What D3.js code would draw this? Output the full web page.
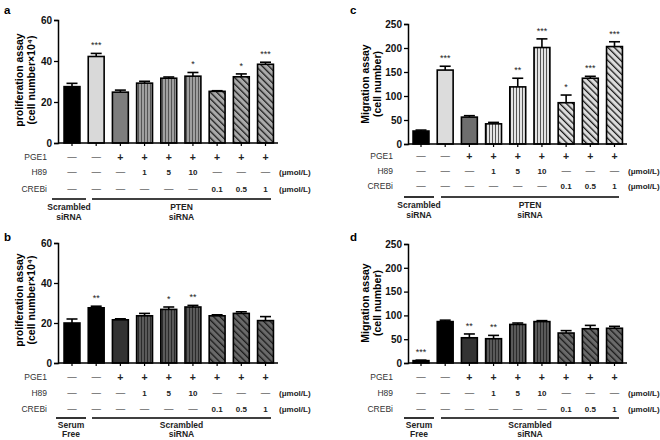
<!DOCTYPE html>
<html><head><meta charset="utf-8">
<script src="https://cdn.jsdelivr.net/npm/d3@7"></script>
<style>
body{margin:0;background:#fff;}
svg{display:block;font-family:"Liberation Sans",Arial,sans-serif;}
</style></head>
<body><svg id="c" width="660" height="440"></svg>
<script>
// ---------- DATA ----------
const categories = ["ctrl","siRNA","PGE1","H89_1","H89_5","H89_10","CREBi_0.1","CREBi_0.5","CREBi_1"];
const pge1Row  = ["—","—","+","+","+","+","+","+","+"];
const h89Row   = ["—","—","—","1","5","10","—","—","—"];
const crebiRow = ["—","—","—","—","—","—","0.1","0.5","1"];
const rowLabels = ["PGE1","H89","CREBi"];
const unitLabel = "(μmol/L)";

const aMeans = [27.5, 42.2, 24.8, 29.2, 31.6, 32.6, 25.2, 32.3, 38.4];
const aErrs  = [1.6, 1.5, 1.0, 0.9, 0.6, 1.8, 0.3, 1.4, 1.0];
const aSig   = ["","***","","","","*","","*","***"];

const bMeans = [20.0, 27.6, 21.6, 23.6, 26.8, 28.0, 23.6, 24.8, 21.2];
const bErrs  = [2.0, 0.8, 0.5, 1.2, 1.2, 0.8, 0.5, 0.8, 2.0];
const bSig   = ["","**","","","*","**","","",""];

const cMeans = [27, 154, 56, 42, 119, 201, 86, 137, 203];
const cErrs  = [2, 8, 3, 3, 18, 18, 16, 4, 10];
const cSig   = ["","***","","","**","***","*","***","***"];

const dMeans = [5, 87, 53, 51, 81, 87, 63, 72, 73];
const dErrs  = [1, 3, 8, 7, 3, 2, 5, 7, 4];
const dSig   = ["***","","**","**","","","","",""];

const ticks60  = [0, 20, 40, 60];
const ticks250 = [0, 50, 100, 150, 200, 250];

// ---------- DRAW ----------
const svg = d3.select("#c");
const defs = svg.append("defs");
function vPattern(id, bg, fg){
  const p = defs.append("pattern").attr("id",id).attr("patternUnits","userSpaceOnUse").attr("width",3).attr("height",6);
  p.append("rect").attr("width",3).attr("height",6).attr("fill",bg);
  p.append("rect").attr("x",0).attr("width",1).attr("height",6).attr("fill",fg);
}
function dPattern(id, bg, fg){
  const p = defs.append("pattern").attr("id",id).attr("patternUnits","userSpaceOnUse").attr("width",4.6).attr("height",10).attr("patternTransform","rotate(-45)");
  p.append("rect").attr("width",4.6).attr("height",10).attr("fill",bg);
  p.append("rect").attr("x",0).attr("width",1.3).attr("height",10).attr("fill",fg);
}
vPattern("va","#a0a0a0","#555");
dPattern("da","#aaaaaa","#1a1a1a");
vPattern("vc","#e4e4e4","#555");
dPattern("dc","#dddddd","#1a1a1a");
vPattern("vb","#5a5a5a","#2a2a2a");
dPattern("db","#6a6a6a","#1a1a1a");

const panels = [
  {label:"a", lx:4, ly:14, means:aMeans, errs:aErrs, sig:aSig, ticks:ticks60, max:60,
   axisX:58, y0:143, y1:20, xr:[72,265.5], xEnd:278,
   fills:["#000","#d9d9d9","#7d7d7d","url(#va)","url(#va)","url(#va)","url(#da)","url(#da)","url(#da)"],
   titles:["proliferation assay","(cell number×10⁴)"], tx:[19,31], ty:80,
   rowY:[157,172,189], rowLabX:47, unitX:279, groupY:199,
   groups:[{x0:52,x1:86,t:["Scrambled","siRNA"]},{x0:92,x1:271,t:["PTEN","siRNA"]}], gty:[207,217]},
  {label:"c", lx:350, ly:14, means:cMeans, errs:cErrs, sig:cSig, ticks:ticks250, max:250,
   axisX:408, y0:144, y1:24, xr:[421,614.5], xEnd:627,
   fills:["#000","#dcdcdc","#6e6e6e","url(#vc)","url(#vc)","url(#vc)","url(#dc)","url(#dc)","url(#dc)"],
   titles:["Migration assay","(cell number)"], tx:[365,377], ty:84,
   rowY:[156,171,186], rowLabX:393, unitX:628, groupY:197,
   groups:[{x0:404,x1:434,t:["Scrambled","siRNA"]},{x0:441,x1:619,t:["PTEN","siRNA"]}], gty:[205,215]},
  {label:"b", lx:4, ly:241, means:bMeans, errs:bErrs, sig:bSig, ticks:ticks60, max:60,
   axisX:58, y0:363, y1:243, xr:[72,265.5], xEnd:278,
   fills:["#000","#000","#333","url(#vb)","url(#vb)","url(#vb)","url(#db)","url(#db)","url(#db)"],
   titles:["proliferation assay","(cell number×10⁴)"], tx:[19,31], ty:300,
   rowY:[377,393,409], rowLabX:47, unitX:279, groupY:418,
   groups:[{x0:56,x1:86,t:["Serum","Free"]},{x0:92,x1:271,t:["Scrambled","siRNA"]}], gty:[425,434]},
  {label:"d", lx:350, ly:241, means:dMeans, errs:dErrs, sig:dSig, ticks:ticks250, max:250,
   axisX:408, y0:363, y1:244, xr:[421,614.5], xEnd:627,
   fills:["#000","#000","#333","url(#vb)","url(#vb)","url(#vb)","url(#db)","url(#db)","url(#db)"],
   titles:["Migration assay","(cell number)"], tx:[365,377], ty:303,
   rowY:[377,393,409], rowLabX:393, unitX:628, groupY:418,
   groups:[{x0:404,x1:434,t:["Serum","Free"]},{x0:441,x1:619,t:["Scrambled","siRNA"]}], gty:[425,434]}
];

const rows = [pge1Row, h89Row, crebiRow];

panels.forEach(P => {
  const g = svg.append("g");
  const x = d3.scalePoint().domain(categories).range(P.xr);
  const y = d3.scaleLinear().domain([0,P.max]).range([P.y0,P.y1]);
  const bw = 17.5;

  g.append("text").attr("x",P.lx).attr("y",P.ly).attr("font-size",11.5).attr("font-weight","bold").text(P.label);

  const ax = g.append("g").attr("transform",`translate(${P.axisX},0)`)
    .call(d3.axisLeft(y).tickValues(P.ticks).tickSize(4).tickPadding(2).tickFormat(d3.format("d")));
  ax.select(".domain").attr("stroke","#000").attr("stroke-width",1.5);
  ax.selectAll(".tick line").attr("stroke","#000").attr("stroke-width",1.3);
  ax.selectAll(".tick text").attr("font-size",10).attr("font-weight","bold").attr("fill","#111")
    .attr("font-family","'Liberation Sans',Arial,sans-serif");

  P.titles.forEach((t,i)=>{
    g.append("text").attr("transform",`translate(${P.tx[i]},${P.ty}) rotate(-90)`)
      .attr("text-anchor","middle").attr("dy","0.35em").attr("font-size",10.5).attr("font-weight","bold").text(t);
  });

  g.selectAll(".err").data(categories).enter().append("g").each(function(c,i){
    const e = d3.select(this), cx = x(c), top = y(P.means[i]+P.errs[i]);
    e.append("line").attr("x1",cx).attr("x2",cx).attr("y1",y(P.means[i])).attr("y2",top).attr("stroke","#000").attr("stroke-width",1.6);
    e.append("line").attr("x1",cx-5.5).attr("x2",cx+5.5).attr("y1",top).attr("y2",top).attr("stroke","#000").attr("stroke-width",1.6);
  });

  g.selectAll(".bar").data(categories).enter().append("rect")
    .attr("x",c=>x(c)-bw/2+0.8).attr("width",bw-1.6)
    .attr("y",(c,i)=>y(P.means[i])).attr("height",(c,i)=>P.y0-y(P.means[i]))
    .attr("fill",(c,i)=>P.fills[i]).attr("stroke","#000").attr("stroke-width",1.6);

  g.append("line").attr("x1",P.axisX).attr("x2",P.xEnd).attr("y1",P.y0).attr("y2",P.y0).attr("stroke","#000").attr("stroke-width",1.5);
  g.selectAll(".xt").data(categories).enter().append("line")
    .attr("x1",c=>x(c)).attr("x2",c=>x(c)).attr("y1",P.y0).attr("y2",P.y0+3).attr("stroke","#000").attr("stroke-width",1.2);

  g.selectAll(".sig").data(categories).enter().append("text")
    .attr("x",c=>x(c)).attr("y",(c,i)=>y(P.means[i]+P.errs[i])-5)
    .attr("text-anchor","middle").attr("font-size",9).attr("fill","#222").text((c,i)=>P.sig[i]);

  rows.forEach((row,r)=>{
    g.append("text").attr("x",P.rowLabX).attr("y",P.rowY[r]).attr("dy","0.35em").attr("text-anchor","end")
      .attr("font-size",8.5).attr("fill","#333").text(rowLabels[r]);
    g.selectAll(".cell"+r).data(categories).enter().append("text")
      .attr("x",c=>x(c)).attr("y",P.rowY[r]).attr("dy","0.35em").attr("text-anchor","middle")
      .attr("font-size",(c,i)=>/\d/.test(row[i])?8:(row[i]==="+"?10.5:9.5))
      .attr("font-weight",(c,i)=>row[i]==="—"?"normal":"bold")
      .attr("fill","#222").text((c,i)=>row[i]);
    if(r>0) g.append("text").attr("x",P.unitX).attr("y",P.rowY[r]).attr("dy","0.35em")
      .attr("font-size",8).attr("font-weight","bold").attr("fill","#222").text(unitLabel);
  });

  P.groups.forEach(gr=>{
    g.append("line").attr("x1",gr.x0).attr("x2",gr.x1).attr("y1",P.groupY).attr("y2",P.groupY).attr("stroke","#000").attr("stroke-width",1.6);
    gr.t.forEach((t,k)=>{
      g.append("text").attr("x",(gr.x0+gr.x1)/2).attr("y",P.gty[k]).attr("dy","0.35em").attr("text-anchor","middle")
        .attr("font-size",8.5).attr("font-weight","bold").attr("fill","#222").text(t);
    });
  });
});
</script></body></html>
